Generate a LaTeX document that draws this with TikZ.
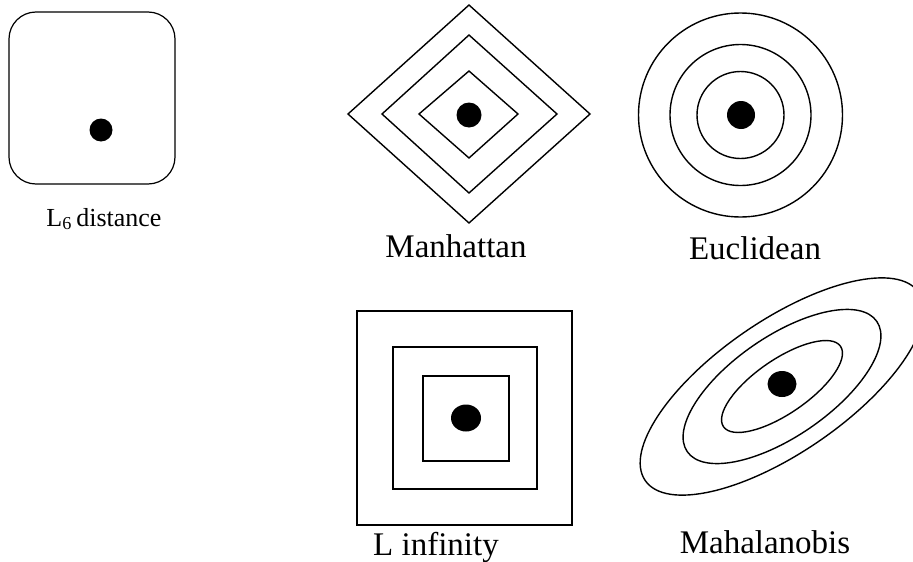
\documentclass[tikz,border=0pt]{standalone}
\usepackage{fontspec}
\setmainfont{Liberation Serif}
\begin{document}
\begin{tikzpicture}[x=1pt,y=-1pt,
  contour/.style={draw=black,line width=1.4pt},
  sqline/.style={draw=black,line width=1.7pt},
  ctr/.style={fill=black},
  lab/.style={anchor=base,inner sep=0pt,font=\fontsize{33}{36}\selectfont},
  smalllab/.style={anchor=base,inner sep=0pt,font=\fontsize{26}{30}\selectfont}]
\useasboundingbox (0,0) rectangle (913,562);
% L6 box
\draw[line width=1.2pt,rounded corners=27pt] (9,12) rectangle (175,184);
\fill[ctr] (101,130) circle (11.5);
\node[smalllab] (l6) at (104,226) {L\textsubscript{6}\,distance};
% Manhattan
\draw[contour] (469,5) -- (590,114) -- (469,223) -- (348,114) -- cycle;
\draw[contour] (469,35) -- (557,114) -- (469,193) -- (382,114) -- cycle;
\draw[contour] (469,71) -- (518,114) -- (469,158) -- (419,114) -- cycle;
\fill[ctr] (469,115) circle (12.5);
\node[lab] (man) at (456,257) {Manhattan};
% Euclidean
\draw[contour] (740.5,115) circle (102);
\draw[contour] (740.5,115) circle (70.5);
\draw[contour] (740.5,115) circle (43.5);
\fill[ctr] (741,115) circle (14);
\node[lab] (euc) at (755,259) {Euclidean};
% L infinity
\draw[sqline] (357,311) rectangle (572,525);
\draw[sqline] (393,347) rectangle (537,489);
\draw[sqline] (423,376) rectangle (509,461);
\fill[ctr] (466,418) ellipse [x radius=15, y radius=13.5];
\node[lab] (linf) at (436,555) {L infinity};
% Mahalanobis
\begin{scope}[rotate around={34.5:(782,386.5)}]
\draw[contour] (782,386.5) ellipse [x radius=166, y radius=66];
\draw[contour] (782,386.5) ellipse [x radius=115, y radius=50];
\draw[contour] (782,386.5) ellipse [x radius=71, y radius=27];
\end{scope}
\fill[ctr] (782,384) ellipse [x radius=14.5, y radius=13];
\node[lab] (mah) at (765,553) {Mahalanobis};
\end{tikzpicture}
\end{document}
